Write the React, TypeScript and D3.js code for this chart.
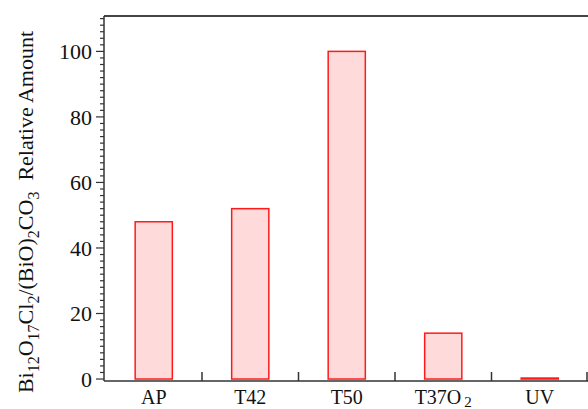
import * as d3 from "d3";
import { useEffect, useRef } from "react";

const categories = ["AP", "T42", "T50", "T37O2", "UV"];
const values = [48, 52, 100, 14, 0.3];
const yTicks = [0, 20, 40, 60, 80, 100];

const FONT = "'Liberation Serif', 'Times New Roman', 'DejaVu Serif', serif";

export default function App() {
  const svgRef = useRef<SVGSVGElement | null>(null);
  const width = 588;
  const height = 409;
  const left = 104;
  const top = 16;
  const bottom = 381;

  useEffect(() => {
    const svg = d3.select(svgRef.current);
    svg.selectAll("*").remove();

    const x = d3.scaleBand().domain(categories).range([105.5, 588]).paddingInner(0.615).paddingOuter(0.3075);
    const xBand = d3.scaleBand().domain(categories).range([105.5, 588]);
    const y = d3.scaleLinear().domain([-0.6, 110.8]).range([bottom, top]);

    // bars
    svg.append("g")
      .selectAll("rect")
      .data(values)
      .join("rect")
      .attr("x", (d, i) => x(categories[i])!)
      .attr("width", x.bandwidth())
      .attr("y", d => y(d))
      .attr("height", d => y(0) - y(d))
      .attr("fill", "#ffdada")
      .attr("stroke", "#ff1a1a")
      .attr("stroke-width", 1.5);

    // frame lines
    svg.append("line")
      .attr("x1", left).attr("x2", width)
      .attr("y1", top).attr("y2", top)
      .attr("stroke", "#444").attr("stroke-width", 2);
    svg.append("line")
      .attr("x1", left).attr("x2", width)
      .attr("y1", bottom).attr("y2", bottom)
      .attr("stroke", "#333").attr("stroke-width", 1.5);
    svg.append("line")
      .attr("x1", left).attr("x2", left)
      .attr("y1", top).attr("y2", bottom)
      .attr("stroke", "#333").attr("stroke-width", 1.5);

    // category separators
    const seps = categories.slice(1).map(c => xBand(c)!).concat([587]);
    svg.append("g")
      .selectAll("line")
      .data(seps)
      .join("line")
      .attr("x1", d => d).attr("x2", d => d)
      .attr("y1", bottom).attr("y2", bottom - 9)
      .attr("stroke", "#333").attr("stroke-width", 1.5);

    // y ticks, major and minor
    const minor = d3.range(0, 111, 2);
    svg.append("g")
      .selectAll("line")
      .data(minor)
      .join("line")
      .attr("x1", left).attr("x2", d => (d % 20 === 0 ? left - 8 : left - 4))
      .attr("y1", d => y(d)).attr("y2", d => y(d))
      .attr("stroke", "#333").attr("stroke-width", 1.2);

    svg.append("g")
      .selectAll("text")
      .data(yTicks)
      .join("text")
      .attr("x", left - 12)
      .attr("y", d => y(d))
      .attr("dy", "0.35em")
      .attr("text-anchor", "end")
      .style("font-family", FONT)
      .style("font-size", "22px")
      .attr("fill", "#111")
      .text(d => d);

    // x labels
    const xl = svg.append("g")
      .selectAll("text")
      .data(categories)
      .join("text")
      .attr("x", d => xBand(d)! + xBand.bandwidth() / 2)
      .attr("y", 404)
      .attr("text-anchor", "middle")
      .style("font-family", FONT)
      .style("font-size", "20px")
      .attr("fill", "#111");
    xl.each(function (d) {
      const t = d3.select(this);
      if (d === "T37O2") {
        t.append("tspan").text("T37O");
        t.append("tspan").attr("dx", 3).attr("dy", 3).style("font-size", "15px").text("2");
      } else {
        t.text(d);
      }
    });

    // y title
    const title = svg.append("text")
      .attr("transform", "translate(33, 212) rotate(-90)")
      .attr("text-anchor", "middle")
      .style("font-family", FONT)
      .style("white-space", "pre")
      .style("font-size", "22px")
      .attr("fill", "#111");
    const parts: [string, boolean][] = [
      ["Bi", false], ["12", true], ["O", false], ["17", true], ["Cl", false], ["2", true],
      ["/(BiO)", false], ["2", true], ["CO", false], ["3", true], ["  Relative Amount", false],
    ];
    let sub = false;
    parts.forEach(([s, isSub]) => {
      const ts = title.append("tspan").text(s);
      if (isSub) ts.style("font-size", "16px");
      if (isSub && !sub) ts.attr("dy", 6);
      else if (!isSub && sub) ts.attr("dy", -6);
      sub = isSub;
    });
  }, []);

  return (
    <svg ref={svgRef} width={width} height={height} style={{ position: "absolute", left: 0, top: 0, background: "#fff" }} />
  );
}
